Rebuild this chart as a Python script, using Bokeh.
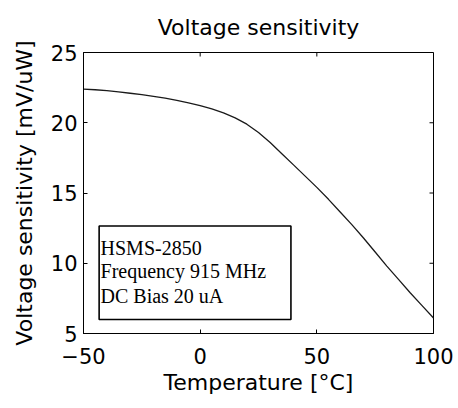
import math
from bokeh.plotting import figure
from bokeh.models import Range1d, FixedTicker, BoxAnnotation, Label
from bokeh.embed import file_html
from bokeh.resources import INLINE

temperature = [-50, -45, -40, -35, -30, -25, -20, -15, -10, -5, 0, 5, 10, 15, 20, 25,
               30, 35, 40, 45, 50, 55, 60, 65, 70, 75, 80, 85, 90, 95, 100]
sensitivity = [22.4, 22.35, 22.28, 22.2, 22.1, 22.0, 21.88, 21.75, 21.6, 21.42, 21.22, 20.98,
               20.7, 20.35, 19.9, 19.3, 18.6, 17.8, 17.0, 16.2, 15.4, 14.55, 13.65, 12.75,
               11.8, 10.8, 9.8, 8.85, 7.9, 7.0, 6.1]
x_ticks = [-50, 0, 50, 100]
y_ticks = [5, 10, 15, 20, 25]
info_lines = ["HSMS-2850", "Frequency 915 MHz", "DC Bias 20 uA"]

SANS = "DejaVu Sans"
SERIF = "Liberation Serif"
x_min, x_max = -50, 100
y_min, y_max = 5, 25

p = figure(width=458, height=408, output_backend="svg", toolbar_location=None,
           x_range=Range1d(x_min, x_max), y_range=Range1d(y_min, y_max),
           title="Voltage sensitivity")
p.min_border_left = 83
p.min_border_right = 25
p.min_border_top = 51
p.min_border_bottom = 75
p.background_fill_color = "white"
p.border_fill_color = "white"
p.outline_line_color = "black"
p.outline_line_width = 1
p.grid.visible = False

p.title.text_font = SANS
p.title.text_font_size = "22px"
p.title.text_font_style = "normal"
p.title.align = "center"
p.title.text_color = "black"
p.title.standoff = 25

for ax, ticks in ((p.xaxis[0], x_ticks), (p.yaxis[0], y_ticks)):
    ax.ticker = FixedTicker(ticks=ticks)
    ax.major_tick_in = 4
    ax.major_tick_out = 0
    ax.minor_tick_line_color = None
    ax.major_label_text_font = SANS
    ax.major_label_text_font_size = "21px"
    ax.major_label_text_color = "black"
    ax.axis_label_text_font = SANS
    ax.axis_label_text_font_size = "22px"
    ax.axis_label_text_font_style = "normal"
    ax.axis_label_text_color = "black"
    ax.axis_line_color = "black"
    ax.major_tick_line_color = "black"

p.xaxis[0].axis_label = "Temperature [°C]"
p.xaxis[0].major_label_standoff = 14
p.xaxis[0].axis_label_standoff = 3
p.yaxis[0].axis_label = "Voltage sensitivity [mV/uW]"
p.yaxis[0].major_label_standoff = 6
p.yaxis[0].axis_label_standoff = 11

# mirrored inward ticks on top and right edges
p.ray(x=x_ticks, y=[y_max] * len(x_ticks), length=4, length_units="screen",
      angle=-math.pi / 2, line_color="black", line_width=1)
p.ray(x=[x_max] * len(y_ticks), y=y_ticks, length=4, length_units="screen",
      angle=math.pi, line_color="black", line_width=1)

p.line(temperature, sensitivity, line_color="#1a1a1a", line_width=1.3)

box = BoxAnnotation(left=-43.3, right=38.9, bottom=6.0, top=12.65,
                    fill_alpha=0, line_color="black", line_width=1.6, line_alpha=1)
p.add_layout(box)

baselines = [11.08, 9.42, 7.68]
for txt, yb in zip(info_lines, baselines):
    p.add_layout(Label(x=-42.7, y=yb, text=txt, text_font=SERIF, text_font_size="20px",
                       text_baseline="alphabetic", text_align="left", text_color="black"))

open("out.html", "w").write(file_html(p, INLINE))
